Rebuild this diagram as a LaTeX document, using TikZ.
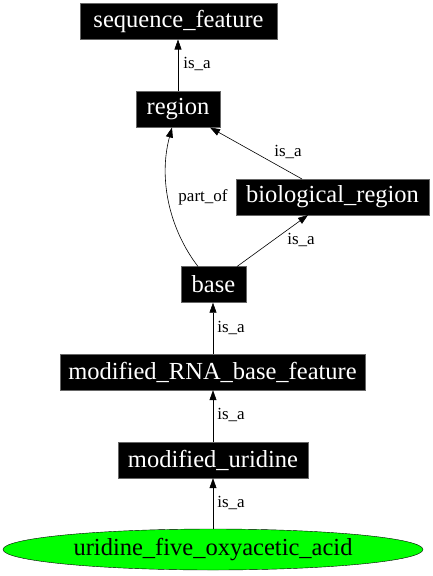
\documentclass[tikz,border=0pt]{standalone}
\usepackage{fontspec}
\setmainfont{Liberation Serif}
\usetikzlibrary{arrows.meta,shapes.geometric}
\begin{document}
\begin{tikzpicture}[x=1pt,y=-1pt,
  term/.style={rectangle,fill=black,draw=black!60,text=white,inner sep=0pt,minimum height=36pt,font=\fontsize{24.5}{27}\selectfont},
  leaf/.style={ellipse,fill=green,draw=black,inner sep=0pt,font=\fontsize{24.5}{27}\selectfont},
  rel/.style={draw=black,line width=0.6pt,-{Triangle[length=10pt,width=7pt]}},
  lbl/.style={font=\fontsize{17}{19}\selectfont,inner sep=0pt}]
\useasboundingbox (0,0) rectangle (432,576);
\node[term,minimum width=197pt] (sf) at (178.5,21.5) {sequence\_feature};
\node[term,minimum width=84pt] (region) at (178,109.5) {region};
\node[term,minimum width=193pt] (bio) at (332.5,197) {biological\_region};
\node[term,minimum width=65pt] (base) at (213.5,284.5) {base};
\node[term,minimum width=305pt] (mrna) at (212.5,372) {modified\_RNA\_base\_feature};
\node[term,minimum width=190pt] (mu) at (213,460) {modified\_uridine};
\node[leaf,minimum width=420pt,minimum height=41pt] (acid) at (213,549.5) {uridine\_five\_oxyacetic\_acid};

\coordinate (r1) at (178,91);
\coordinate (s1) at (178,39.5);
\draw[rel] (r1) -- (s1);
\node[lbl] (l1) at (197,64) {is\_a};

\coordinate (b1) at (302,179);
\coordinate (r2) at (210,127.5);
\draw[rel] (b1) -- (r2);
\node[lbl] (l2) at (288,152) {is\_a};

\coordinate (ba1) at (198,266.5);
\coordinate (r3) at (172,127.5);
\draw[rel] (ba1) .. controls (170,230) and (158,180) .. (r3);
\node[lbl] (l3) at (203,197) {part\_of};

\coordinate (ba2) at (237,266.5);
\coordinate (b2) at (308,215);
\draw[rel] (ba2) -- (b2);
\node[lbl] (l4) at (301,240) {is\_a};

\draw[rel] (mrna.north -| 213,0) -- (base.south -| 213,0);
\node[lbl] (l5) at (231,328) {is\_a};

\draw[rel] (mu.north -| 213,0) -- (mrna.south -| 213,0);
\node[lbl] (l6) at (231,415) {is\_a};

\draw[rel] (acid.north -| 213,0) -- (mu.south -| 213,0);
\node[lbl] (l7) at (231,503) {is\_a};
\end{tikzpicture}
\end{document}
